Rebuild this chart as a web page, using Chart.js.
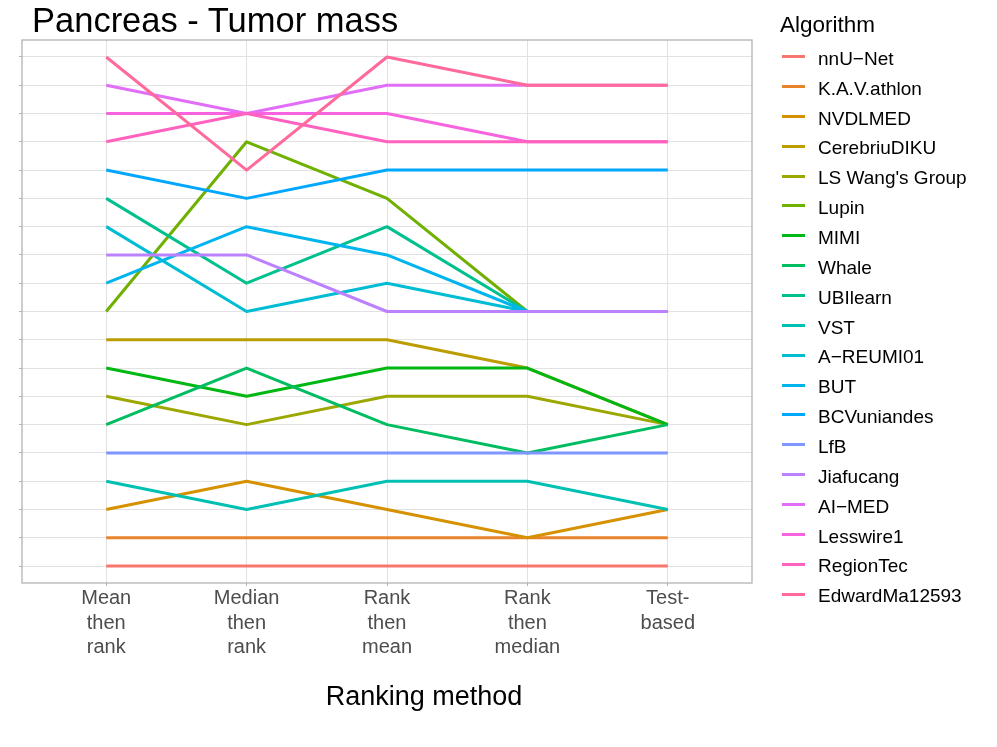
<!DOCTYPE html>
<html><head><meta charset="utf-8">
<script src="https://cdn.jsdelivr.net/npm/chart.js@4.4.1/dist/chart.umd.min.js"></script>
<style>
html,body{margin:0;padding:0;background:#fff;}
#wrap{position:relative;width:997px;height:747px;overflow:hidden;font-family:"Liberation Sans",Arial,sans-serif;background:#fff;}
#chartBox{position:absolute;left:0;top:0;width:997px;height:747px;}
#title{position:absolute;left:32px;top:3px;font-size:34.5px;line-height:34px;color:#000;white-space:nowrap;}
#xTitle{position:absolute;left:274px;width:300px;top:683px;font-size:27px;line-height:27px;color:#000;text-align:center;white-space:nowrap;}
#legTitle{position:absolute;left:780px;top:14px;font-size:22.5px;line-height:22px;color:#000;white-space:nowrap;}
.key{position:absolute;left:782px;width:23px;height:3px;}
.lab{position:absolute;left:818px;font-size:19px;line-height:19px;color:#000;white-space:nowrap;}
</style></head>
<body>
<div id="wrap">
  <div id="chartBox"><canvas id="c"></canvas></div>
  <div id="title">Pancreas - Tumor mass</div>
  <div id="xTitle">Ranking method</div>
  <div id="legend"><div id="legTitle">Algorithm</div></div>
</div>
<script>
// ---- data ----
const methods = [["Mean","then","rank"],["Median","then","rank"],["Rank","then","mean"],["Rank","then","median"],["Test-","based"]];
const algorithms = ["nnU\u2212Net","K.A.V.athlon","NVDLMED","CerebriuDIKU","LS Wang's Group","Lupin","MIMI","Whale","UBIlearn","VST","A\u2212REUMI01","BUT","BCVuniandes","LfB","Jiafucang","AI\u2212MED","Lesswire1","RegionTec","EdwardMa12593"];
const rankLevels = [1,2,3,4,5,6,7,8,9,10,11,12,13,14,15,16,17,18,19];
// ranks per method, in algorithm order
const meanThenRank   = [1,2,3,9,7,10,8,6,14,4,13,11,15,5,12,18,17,16,19];
const medianThenRank = [1,2,4,9,6,16,7,8,11,3,10,13,14,5,12,17,17,17,15];
const rankThenMean   = [1,2,3,9,7,14,8,6,13,4,11,12,15,5,10,18,17,16,19];
const rankThenMedian = [1,2,2,8,7,10,8,5,10,4,10,10,15,5,10,18,16,16,18];
const testBased      = [1,2,3,6,6,10,6,6,10,3,10,10,15,5,10,18,16,16,18];
const rankTable = [meanThenRank, medianThenRank, rankThenMean, rankThenMedian, testBased];

// ---- ggplot-like hue palette (R hcl) ----
function hcl(h, c, l) {
  const WY = 100, Wu = 0.1978398, Wv = 0.4683363;
  const hr = h * Math.PI / 180;
  const U = c * Math.cos(hr), V = c * Math.sin(hr);
  const Y = WY * (l > 7.999592 ? Math.pow((l + 16) / 116, 3) : l / 903.3);
  const u = U / (13 * l) + Wu, v = V / (13 * l) + Wv;
  const X = 9 * Y * u / (4 * v);
  const Z = -X / 3 - 5 * Y + 3 * Y / v;
  const g = t => t > 0.00304 ? 1.055 * Math.pow(t, 1 / 2.4) - 0.055 : 12.92 * t;
  const R = g((3.240479 * X - 1.537150 * Y - 0.498535 * Z) / WY);
  const G = g((-0.969256 * X + 1.875992 * Y + 0.041556 * Z) / WY);
  const B = g((0.055648 * X - 0.204043 * Y + 1.057311 * Z) / WY);
  const to = t => Math.round(255 * Math.min(1, Math.max(0, t)));
  return 'rgb(' + to(R) + ',' + to(G) + ',' + to(B) + ')';
}
const n = algorithms.length;
const palette = algorithms.map((_, i) => hcl(15 + 360 * i / n, 100, 65));

// ---- HTML legend ----
const leg = document.getElementById('legend');
algorithms.forEach((name, i) => {
  const cy = 56.7 + i * 29.85;
  const k = document.createElement('div');
  k.className = 'key'; k.style.top = (cy - 1.5) + 'px'; k.style.background = palette[i];
  const t = document.createElement('div');
  t.className = 'lab'; t.style.top = (cy - 7.8) + 'px'; t.textContent = name;
  leg.appendChild(k); leg.appendChild(t);
});

// ---- chart ----
Chart.defaults.font.family = '"Liberation Sans", Arial, sans-serif';
const datasets = algorithms.map((name, i) => ({
  label: name,
  data: rankTable.map((col, j) => ({x: j, y: col[i]})),
  borderColor: palette[i],
  backgroundColor: palette[i],
  borderWidth: 3,
  pointRadius: 0,
  pointHoverRadius: 0,
  tension: 0,
  fill: false,
  borderCapStyle: 'butt',
  borderJoinStyle: 'round',
  order: n - 1 - i
}));

const panelBorder = {
  id: 'panelBorder',
  afterDatasetsDraw(chart) {
    const {ctx, chartArea: a} = chart;
    ctx.save();
    ctx.strokeStyle = '#b3b3b3';
    ctx.lineWidth = 1.3;
    ctx.strokeRect(a.left, a.top, a.right - a.left, a.bottom - a.top);
    ctx.restore();
  }
};

new Chart(document.getElementById('c'), {
  type: 'line',
  data: { datasets },
  plugins: [panelBorder],
  options: {
    responsive: true,
    maintainAspectRatio: false,
    animation: false,
    layout: { padding: { left: 0, top: 40, right: 245, bottom: 0 } },
    plugins: { legend: { display: false }, tooltip: { enabled: false }, title: { display: false } },
    events: [],
    scales: {
      x: {
        type: 'linear',
        min: -0.6,
        max: 4.6,
        afterBuildTicks: s => { s.ticks = methods.map((_, j) => ({ value: j })); },
        afterFit: s => { s.height = 164; },
        ticks: {
          callback: v => methods[v],
          color: '#4d4d4d',
          font: { size: 20, lineHeight: 1.225 },
          padding: 0.5,
          maxRotation: 0,
          minRotation: 0,
          autoSkip: false
        },
        grid: { color: '#e2e2e2', lineWidth: 1, tickLength: 3, tickColor: '#b3b3b3', tickWidth: 1 },
        border: { display: false },
        title: { display: false }
      },
      y: {
        type: 'linear',
        min: 0.4,
        max: 19.6,
        afterBuildTicks: s => { s.ticks = rankLevels.map(v => ({ value: v })); },
        afterFit: s => { s.width = 22; },
        ticks: { display: false },
        grid: { color: '#e2e2e2', lineWidth: 1, tickLength: 3, tickColor: '#b3b3b3', tickWidth: 1 },
        border: { display: false }
      }
    }
  }
});
</script>
</body></html>
